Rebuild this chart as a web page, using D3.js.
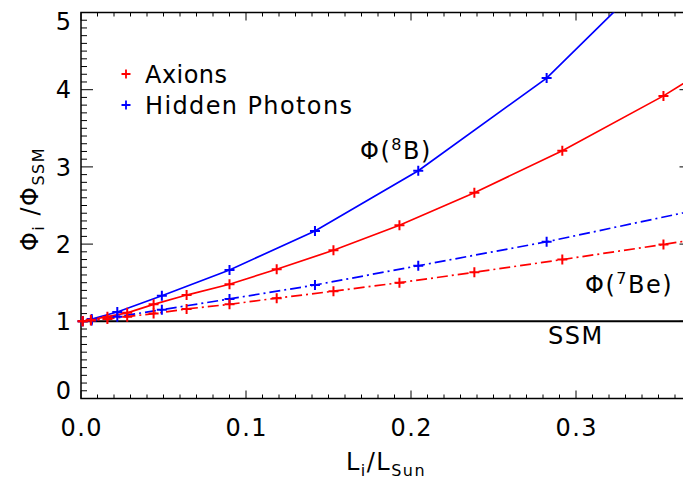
<!DOCTYPE html>
<html>
<head>
<meta charset="utf-8">
<script src="https://cdn.jsdelivr.net/npm/d3@7"></script>
<style>
  html, body { margin: 0; padding: 0; background: #fff; }
  svg { display: block; }
  text { font-family: "DejaVu Sans", "Liberation Sans", sans-serif; fill: #000; }
</style>
</head>
<body>
<script>
// ---- data ----
const axionX    = [0.001, 0.006, 0.016, 0.028, 0.044, 0.064, 0.090, 0.1186, 0.153, 0.193, 0.2384, 0.2917, 0.353, 0.42];
const axionB8   = [1.00, 1.02, 1.06, 1.11, 1.22, 1.34, 1.48, 1.675, 1.92, 2.245, 2.665, 3.21, 3.92, 4.80];
const axionBe7  = [1.00, 1.01, 1.03, 1.06, 1.10, 1.16, 1.22, 1.30, 1.39, 1.50, 1.635, 1.80, 1.995, 2.22];
const hiddenX   = [0.001, 0.0065, 0.022, 0.049, 0.090, 0.1418, 0.2044, 0.2822, 0.375];
const hiddenB8  = [1.00, 1.03, 1.12, 1.33, 1.665, 2.17, 2.95, 4.15, 6.10];
const hiddenBe7 = [1.00, 1.01, 1.06, 1.15, 1.29, 1.47, 1.72, 2.03, 2.45];
const xTicks = [0.0, 0.1, 0.2, 0.3];
const xTickLabels = ["0.0", "0.1", "0.2", "0.3"];
const yTicks = [0, 1, 2, 3, 4, 5];
const yTickLabels = ["0", "1", "2", "3", "4", "5"];
const legendNames = ["Axions", "Hidden Photons"];

// ---- layout ----
const W = 683, H = 479;
const L = 81, R = 691.5, T = 12.5, B = 398.5;
const RED = "#ff0000", BLUE = "#0000ff";
const FS = 24, LS = 1.5;

const svg = d3.select("body").append("svg").attr("width", W).attr("height", H);
const x = d3.scaleLinear().domain([0, 0.37]).range([L, R]);
const y = d3.scaleLinear().domain([0, 5]).range([B, T]);

svg.append("defs").append("clipPath").attr("id", "clip")
  .append("rect").attr("x", L).attr("y", T).attr("width", R - L).attr("height", B - T);

// ---- axes (IDL style box with ticks inside) ----
const axisG = svg.append("g").attr("stroke", "#000").attr("fill", "none");
const xMinor = d3.range(0, 37).map(i => i / 100);
const yMinor = d3.range(0, 51).map(i => i / 10);
function isMajor(v, arr) { return arr.some(t => Math.abs(t - v) < 1e-9); }

xMinor.forEach(v => {
  const len = isMajor(v, xTicks) ? 8 : 4;
  const px = x(v);
  axisG.append("line").attr("x1", px).attr("x2", px).attr("y1", B).attr("y2", B - len).attr("stroke-width", 1);
  axisG.append("line").attr("x1", px).attr("x2", px).attr("y1", T).attr("y2", T + len).attr("stroke-width", 1);
});
yMinor.forEach(v => {
  const len = isMajor(v, yTicks) ? 12 : 6;
  const py = y(v);
  axisG.append("line").attr("x1", L).attr("x2", L + len).attr("y1", py).attr("y2", py).attr("stroke-width", 1);
  axisG.append("line").attr("x1", R).attr("x2", R - len).attr("y1", py).attr("y2", py).attr("stroke-width", 1);
});
axisG.append("rect").attr("x", L).attr("y", T).attr("width", R - L).attr("height", B - T).attr("stroke-width", 1.5);

// tick labels
xTicks.forEach((v, i) => {
  svg.append("text").attr("x", x(v) + LS / 2).attr("y", 436).attr("text-anchor", "middle")
    .attr("font-size", FS).attr("letter-spacing", LS).text(xTickLabels[i]);
});
yTicks.forEach((v, i) => {
  const cy = Math.min(Math.max(y(v), T + 8.5), B - 8);
  svg.append("text").attr("x", 71 + LS).attr("y", cy + 8.6).attr("text-anchor", "end")
    .attr("font-size", FS).attr("letter-spacing", LS).text(yTickLabels[i]);
});

// rich text helper: parts = [[text, "n"|"sub"|"sup"], ...]
function rich(sel, parts, size) {
  let shift = 0;
  sel.attr("letter-spacing", LS);
  parts.forEach(([t, k]) => {
    const target = k === "sub" ? 6 : k === "sup" ? -9 : 0;
    const fs = k === "n" ? size : Math.round(size * 0.68);
    sel.append("tspan").attr("dy", target - shift).attr("font-size", fs).text(t);
    shift = target;
  });
}

// axis titles
rich(svg.append("text").attr("x", 386).attr("y", 470).attr("text-anchor", "middle").attr("font-size", FS),
  [["L", "n"], ["i", "sub"], ["/L", "n"], ["Sun", "sub"]], FS);
rich(svg.append("text").attr("transform", "translate(38,199) rotate(-90)").attr("text-anchor", "middle").attr("font-size", FS),
  [["Φ", "n"], ["i", "sub"], [" /Φ", "n"], ["SSM", "sub"]], FS);

// ---- data marks ----
const plot = svg.append("g");
const clipped = plot.append("g").attr("clip-path", "url(#clip)");

// SSM line
clipped.append("line").attr("x1", x(0)).attr("x2", x(0.37)).attr("y1", y(1)).attr("y2", y(1))
  .attr("stroke", "#000").attr("stroke-width", 2);

const line = d3.line().x(d => x(d[0])).y(d => y(d[1]));
const series = [
  { xs: hiddenX, ys: hiddenB8, color: BLUE, dash: null },
  { xs: hiddenX, ys: hiddenBe7, color: BLUE, dash: "11,4,2,4" },
  { xs: axionX, ys: axionB8, color: RED, dash: null },
  { xs: axionX, ys: axionBe7, color: RED, dash: "11,4,2,4" }
];
const plus = "M-5,0H5M0,-5V5";
series.forEach(s => {
  const pts = s.xs.map((v, i) => [v, s.ys[i]]);
  clipped.append("path").datum(pts).attr("d", line).attr("fill", "none")
    .attr("stroke", s.color).attr("stroke-width", 1.7)
    .attr("stroke-dasharray", s.dash);
  plot.selectAll(null).data(pts.filter(p => p[0] <= 0.37 && p[1] <= 5)).enter().append("path")
    .attr("d", plus).attr("transform", p => `translate(${x(p[0])},${y(p[1])})`)
    .attr("stroke", s.color).attr("stroke-width", 2).attr("fill", "none");
});

// ---- legend ----
const legColors = [RED, BLUE];
legendNames.forEach((n, i) => {
  const ly = 74 + i * 31;
  svg.append("path").attr("d", "M-4.5,0H4.5M0,-4.5V4.5").attr("transform", `translate(126,${ly})`)
    .attr("stroke", legColors[i]).attr("stroke-width", 1.8);
  svg.append("text").attr("x", 145).attr("y", ly + 8.5).attr("font-size", FS)
    .attr("textLength", i === 0 ? 82 : 207).attr("lengthAdjust", "spacing").text(n);
});

// ---- annotations ----
rich(svg.append("text").attr("x", 360).attr("y", 159).attr("font-size", FS),
  [["Φ(", "n"], ["8", "sup"], ["B)", "n"]], FS);
rich(svg.append("text").attr("x", 585).attr("y", 293).attr("font-size", FS),
  [["Φ(", "n"], ["7", "sup"], ["Be)", "n"]], FS);
svg.append("text").attr("x", 548).attr("y", 344).attr("font-size", FS).attr("letter-spacing", LS).text("SSM");
</script>
</body>
</html>
